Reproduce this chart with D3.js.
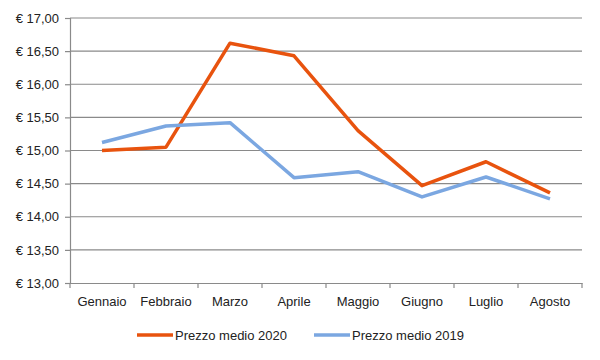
<!DOCTYPE html>
<html><head><meta charset="utf-8">
<script src="https://cdn.jsdelivr.net/npm/d3@7/dist/d3.min.js"></script>
<style>body{margin:0;background:#fff}text{font-family:"Liberation Sans",Arial,sans-serif}</style>
</head><body><svg id="c" width="600" height="360"></svg>
<script>
const categories = ["Gennaio","Febbraio","Marzo","Aprile","Maggio","Giugno","Luglio","Agosto"];
const prezzo2020 = [15.00, 15.05, 16.62, 16.43, 15.30, 14.47, 14.83, 14.36];
const prezzo2019 = [15.12, 15.37, 15.42, 14.59, 14.68, 14.30, 14.60, 14.27];
const yTicks = [13, 13.5, 14, 14.5, 15, 15.5, 16, 16.5, 17];
const seriesNames = ["Prezzo medio 2020", "Prezzo medio 2019"];
const colors = ["#E8530E", "#7BA7E1"];

const svg = d3.select("#c");
const L = 70, R = 582, T = 18, B = 283;
const x = d3.scaleBand().domain(categories).range([L, R]);
const y = d3.scaleLinear().domain([13, 17]).range([B, T]);
const fmt = v => "€ " + v.toFixed(2).replace(".", ",");

// gridlines
svg.append("g").selectAll("line").data(yTicks.filter(v => v > 13)).join("line")
  .attr("x1", L).attr("x2", R).attr("y1", d => y(d)).attr("y2", d => y(d))
  .attr("stroke", "#8a8a8a").attr("stroke-width", 1.2);

// y axis
const ya = svg.append("g").attr("transform", `translate(${L},0)`)
  .call(d3.axisLeft(y).tickValues(yTicks).tickFormat(fmt).tickSize(5).tickPadding(6));
ya.select(".domain").attr("stroke", "#8a8a8a").attr("stroke-width", 1.2);
ya.selectAll(".tick line").attr("stroke", "#8a8a8a").attr("stroke-width", 1.2);
ya.selectAll("text").attr("font-size", 13).attr("fill", "#222").style("font-family", '"Liberation Sans",Arial,sans-serif');

// x axis
const xa = svg.append("g").attr("transform", `translate(0,${B})`)
  .call(d3.axisBottom(x).tickSize(0).tickPadding(14));
xa.select(".domain").attr("stroke", "#8a8a8a").attr("stroke-width", 1.2);
xa.selectAll("text").attr("font-size", 13).attr("fill", "#222").style("font-family", '"Liberation Sans",Arial,sans-serif');
const bounds = categories.map(c => x(c)).concat([R]);
svg.append("g").selectAll("line").data(bounds).join("line")
  .attr("x1", d => d).attr("x2", d => d).attr("y1", B).attr("y2", B + 5)
  .attr("stroke", "#8a8a8a").attr("stroke-width", 1.2);

// lines
const line = d3.line().x((d, i) => x(categories[i]) + x.bandwidth() / 2).y(d => y(d));
[prezzo2020, prezzo2019].forEach((s, k) => {
  svg.append("path").datum(s).attr("d", line).attr("fill", "none")
    .attr("stroke", colors[k]).attr("stroke-width", 3.5).attr("stroke-linejoin", "round");
});

// legend
const legX = [137, 314];
seriesNames.forEach((n, k) => {
  const g = svg.append("g").attr("transform", `translate(${legX[k]},335)`);
  g.append("line").attr("x1", 0).attr("x2", 36).attr("stroke", colors[k]).attr("stroke-width", 3.5);
  g.append("text").attr("x", 38).attr("y", 0).attr("dy", "0.35em").attr("font-size", 13).attr("fill", "#222").text(n);
});
</script></body></html>
